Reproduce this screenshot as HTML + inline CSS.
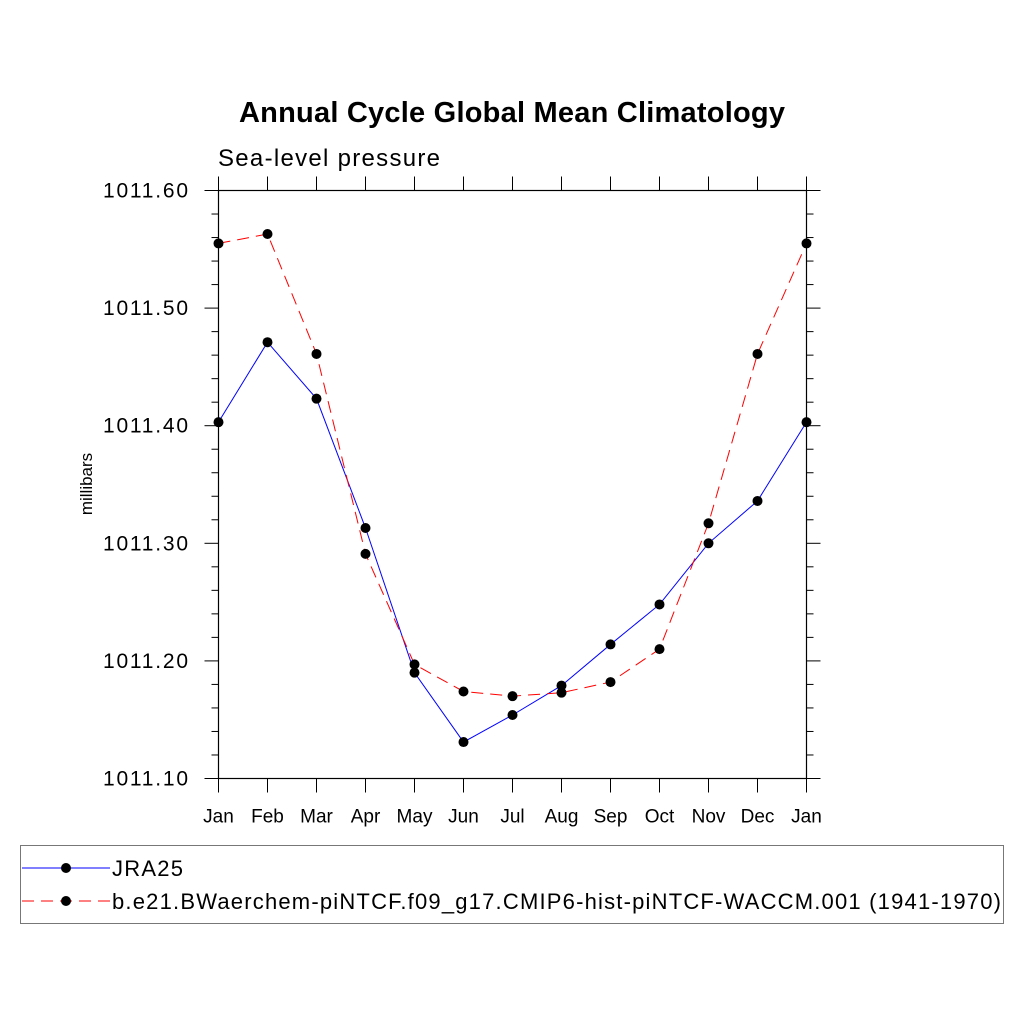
<!DOCTYPE html>
<html><head><meta charset="utf-8"><style>
body{margin:0;background:#fff;}
svg{display:block;font-family:"Liberation Sans",Arial,sans-serif;}
</style></head><body>
<svg id="chart" width="1024" height="1024" viewBox="0 0 1024 1024">
<text x="512" y="122" text-anchor="middle" font-size="29" font-weight="bold" textLength="546">Annual Cycle Global Mean Climatology</text>
<text x="218" y="166" font-size="24" textLength="222">Sea-level pressure</text>
<text transform="translate(92,484) rotate(-90)" text-anchor="middle" font-size="17">millibars</text>
<g id="axes"></g>
<g id="series"></g>
<rect x="20.5" y="845.5" width="983" height="78" fill="none" stroke="#777" stroke-width="1"/>
<g>
<line x1="22" y1="868" x2="110" y2="868" stroke="#0000ff" stroke-width="1"/>
<circle cx="66" cy="868" r="5" fill="#000"/>
<text x="112" y="876" font-size="22" textLength="71">JRA25</text></g>
<g>
<line x1="22" y1="901" x2="110" y2="901" stroke="#ff0000" stroke-width="1" stroke-dasharray="12,7"/>
<circle cx="66" cy="901" r="5" fill="#000"/>
<text x="112" y="909" font-size="22" textLength="889">b.e21.BWaerchem-piNTCF.f09_g17.CMIP6-hist-piNTCF-WACCM.001 (1941-1970)</text></g>
</svg>
<script>
const months=["Jan","Feb","Mar","Apr","May","Jun","Jul","Aug","Sep","Oct","Nov","Dec","Jan"];
const jra25=[1011.403,1011.471,1011.423,1011.313,1011.190,1011.131,1011.154,1011.179,1011.214,1011.248,1011.300,1011.336,1011.403];
const model=[1011.555,1011.563,1011.461,1011.291,1011.197,1011.174,1011.170,1011.173,1011.182,1011.210,1011.317,1011.461,1011.555];
const yTicks=["1011.10","1011.20","1011.30","1011.40","1011.50","1011.60"];
const X0=218.5,X1=806.5,Y0=778.5,Y1=190.5,YMIN=1011.1,YMAX=1011.6;
const xs=i=>X0+(X1-X0)*i/(months.length-1);
const ys=v=>Y0-(v-YMIN)/(YMAX-YMIN)*(Y0-Y1);
const NS="http://www.w3.org/2000/svg";
function mk(tag,attrs,parent){const e=document.createElementNS(NS,tag);for(const k in attrs)e.setAttribute(k,attrs[k]);parent.appendChild(e);return e;}
const ax=document.getElementById('axes');
const frame=mk('rect',{x:X0,y:Y1,width:X1-X0,height:Y0-Y1,fill:'none',stroke:'#000','stroke-width':1.2},ax);


for(let i=0;i<months.length;i++){
 const x=xs(i);
 mk('line',{x1:x,y1:Y0,x2:x,y2:Y0+14,stroke:'#000'},ax);
 mk('line',{x1:x,y1:Y1,x2:x,y2:Y1-14,stroke:'#000'},ax);
 const t=mk('text',{x:x,y:Y0+44,'text-anchor':'middle','font-size':19},ax);
 t.textContent=months[i];
 
 
}
for(let k=0;k<=25;k++){
 const v=YMIN+k*0.02,y=ys(v),major=k%5===0,L=major?14:7;
 mk('line',{x1:X0-L,y1:y,x2:X0,y2:y,stroke:'#000'},ax);
 mk('line',{x1:X1,y1:y,x2:X1+L,y2:y,stroke:'#000'},ax);
}
yTicks.forEach(s=>{
 const t=mk('text',{x:188,y:ys(parseFloat(s))+7,'text-anchor':'end','font-size':21,textLength:85},ax);
 t.textContent=s;
 
 
});
const sg=document.getElementById('series');
function draw(data,color,dash,name){
 const g=mk('g',{},sg);
 
 
 const pts=data.map((v,i)=>xs(i)+','+ys(v)).join(' ');
 const attrs={points:pts,fill:'none',stroke:color,'stroke-width':1};
 if(dash)attrs['stroke-dasharray']=dash;
 mk('polyline',attrs,g);
 data.forEach((v,i)=>{
  const c=mk('circle',{cx:xs(i),cy:ys(v),r:5,fill:'#000'},g);
  
  
 });
}
draw(jra25,'#0000ff',null,'series-jra25');
draw(model,'#ff0000','12,7','series-model');
</script>
</body></html>
